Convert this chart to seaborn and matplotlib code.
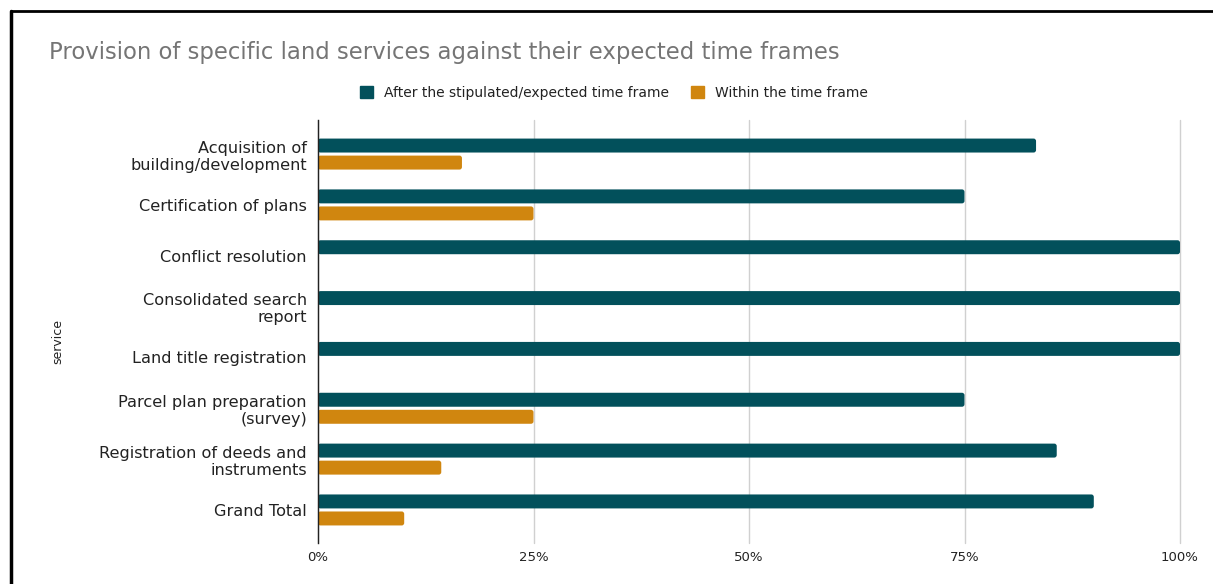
import matplotlib
matplotlib.use("Agg")
import matplotlib.pyplot as plt
from matplotlib.lines import Line2D
from matplotlib.patches import Patch, FancyBboxPatch
from matplotlib.ticker import PercentFormatter
import seaborn as sns
import pandas as pd

services = [
    "Acquisition of\nbuilding/development",
    "Certification of plans",
    "Conflict resolution",
    "Consolidated search\nreport",
    "Land title registration",
    "Parcel plan preparation\n(survey)",
    "Registration of deeds and\ninstruments",
    "Grand Total",
]
after_pct = [83.3, 75.0, 100.0, 100.0, 100.0, 75.0, 85.7, 90.0]
within_pct = [16.7, 25.0, 0.0, 0.0, 0.0, 25.0, 14.3, 10.0]
series_names = ["After the stipulated/expected time frame", "Within the time frame"]
series_colors = ["#02505B", "#D0860F"]

df = pd.DataFrame({
    "service": services * 2,
    "pct": after_pct + within_pct,
    "status": [series_names[0]] * len(services) + [series_names[1]] * len(services),
})

sns.set_style("white")
plt.rcParams["font.family"] = ["DejaVu Sans"]

W, H = 1213, 584
fig = plt.figure(figsize=(W / 100, H / 100), dpi=100)
ax = fig.add_axes([318 / W, 1 - 543 / H, (1180 - 318) / W, (543 - 120) / H])

sns.barplot(
    data=df, y="service", x="pct", hue="status", orient="h",
    palette=series_colors, width=0.67, gap=0.18, ax=ax,
    legend=False, saturation=1,
)

ax.set_xlim(0, 100)
ax.set_ylim(len(services) - 1 + 0.65, -0.67)

# soften bar ends with small rounded corners
px_x = (1180 - 318) / 100.0
px_y = (543 - 120) / (len(services) - 1 + 0.65 + 0.67)
for bar in list(ax.patches):
    w, h = bar.get_width(), bar.get_height()
    if w <= 0:
        bar.remove()
        continue
    x0, y0 = bar.get_x(), bar.get_y()
    r = 2.5 / px_x
    rounded = FancyBboxPatch(
        (x0, y0), w, h,
        boxstyle=f"round,pad=0,rounding_size={r}",
        mutation_aspect=px_x / px_y,
        facecolor=bar.get_facecolor(), edgecolor="none", zorder=bar.get_zorder(),
    )
    bar.remove()
    ax.add_patch(rounded)

ax.xaxis.set_major_formatter(PercentFormatter(decimals=0))
ax.set_xticks([0, 25, 50, 75, 100])
ax.grid(axis="x", color="#d0d0d0", linewidth=1)
for gl in ax.get_xgridlines():
    gl.set_clip_on(False)
ax.set_axisbelow(True)
for side in ["top", "right", "bottom"]:
    ax.spines[side].set_visible(False)
ax.spines["left"].set_color("#222222")
ax.spines["left"].set_linewidth(1)
ax.spines["left"].set_zorder(5)
ax.tick_params(axis="y", length=0, pad=8, labelsize=11.6, labelcolor="#222222")
ax.tick_params(axis="x", length=0, pad=6, labelsize=9.5, labelcolor="#222222")
ax.set_xlabel("")
ax.set_ylabel("service", fontsize=9, color="#222222", labelpad=0)
ax.yaxis.set_label_coords(64 / W, 1 - 342 / H, transform=fig.transFigure)

fig.text(49 / W, 1 - 53 / H, "Provision of specific land services against their expected time frames",
         fontsize=16.4, color="#757575", va="center", ha="left")

handles = [Patch(facecolor=c, edgecolor=c) for c in series_colors]
fig.legend(handles, series_names, loc="center", bbox_to_anchor=(614 / W, 1 - 93 / H),
           ncol=2, frameon=False, fontsize=10, handlelength=0.9, handleheight=0.9,
           handletextpad=0.8, columnspacing=1.6, labelcolor="#222222")

# page frame
fig.add_artist(Line2D([11 / W, 1], [1 - 11 / H, 1 - 11 / H], color="black", lw=2))
fig.add_artist(Line2D([11 / W, 11 / W], [0, 1 - 11 / H], color="black", lw=2.5))

fig.savefig("out.png", dpi=100)
